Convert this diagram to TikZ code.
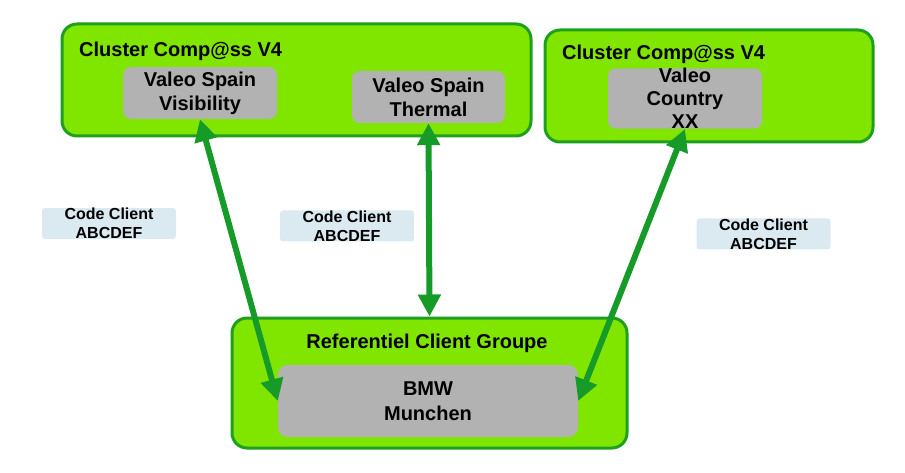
\documentclass[tikz,border=0pt]{standalone}
\usepackage{fontspec}
\setmainfont{Liberation Sans}
\usetikzlibrary{arrows.meta, positioning}
\definecolor{clustergreen}{RGB}{128,230,0}
\definecolor{edgegreen}{RGB}{30,160,30}
\definecolor{linkgreen}{RGB}{22,155,40}
\definecolor{appgray}{RGB}{178,178,178}
\definecolor{codeblue}{RGB}{218,234,240}
\tikzstyle{cluster} = [draw=edgegreen, line width=3pt, fill=clustergreen, rounded corners=15pt, inner sep=0pt]
\tikzstyle{app} = [fill=appgray, rounded corners=8pt, align=center, inner sep=0pt, font=\fontsize{20}{24}\selectfont\bfseries]
\tikzstyle{title} = [inner sep=0pt, font=\fontsize{20}{24}\selectfont\bfseries]
\tikzstyle{code} = [fill=codeblue, rounded corners=3pt, align=center, inner sep=0pt, minimum width=134pt, minimum height=31pt, font=\fontsize{16}{19}\selectfont\bfseries]
\tikzstyle{link} = [line width=6pt, linkgreen, {Triangle[length=22pt,width=22pt]}-{Triangle[length=22pt,width=22pt]}]

\begin{document}
\begin{tikzpicture}[x=1pt, y=-1pt]
\useasboundingbox (0,0) rectangle (905,473);

% clusters
\node[cluster, minimum width=469pt, minimum height=112pt] (cluA) at (296.5,80) {};
\node[title, anchor=base west] (cluAtitle) at (79,57) {Cluster Comp@ss V4};
\node[app, minimum width=154pt, minimum height=52pt] (visi) at (200,93) {Valeo Spain\\Visibility};
\node[app, minimum width=153pt, minimum height=52pt] (therm) at (428.5,97) {Valeo Spain\\Thermal};

\node[cluster, minimum width=328pt, minimum height=112pt] (cluB) at (709,86) {};
\node[title, anchor=base west] (cluBtitle) at (562,60) {Cluster Comp@ss V4};
\node[app, minimum width=154pt, minimum height=53pt, font=\fontsize{20}{23}\selectfont\bfseries] (country) at (685,98.5) {Valeo\\Country\\XX};

% referentiel
\node[cluster, minimum width=395pt, minimum height=130pt] (refgrp) at (429.5,383) {};
\node[title, anchor=base] (refgrptitle) at (427,348) {Referentiel Client Groupe};
\node[app, minimum width=300pt, minimum height=72pt, rounded corners=10pt, font=\fontsize{20}{25}\selectfont\bfseries] (bmw) at (428,401) {BMW\\Munchen};

% code client labels
\foreach \n/\x/\y in {codeA/109/223.5, codeB/347/226, codeC/763.5/234} {
    \node[code] (\n) at (\x,\y) {Code Client\\ABCDEF};
}

% links
\draw[link] (visi.south) -- (bmw.west);
\draw[link] (therm.south) -- (refgrp.north);
\draw[link] (country.south) -- (bmw.east);
\end{tikzpicture}
\end{document}
